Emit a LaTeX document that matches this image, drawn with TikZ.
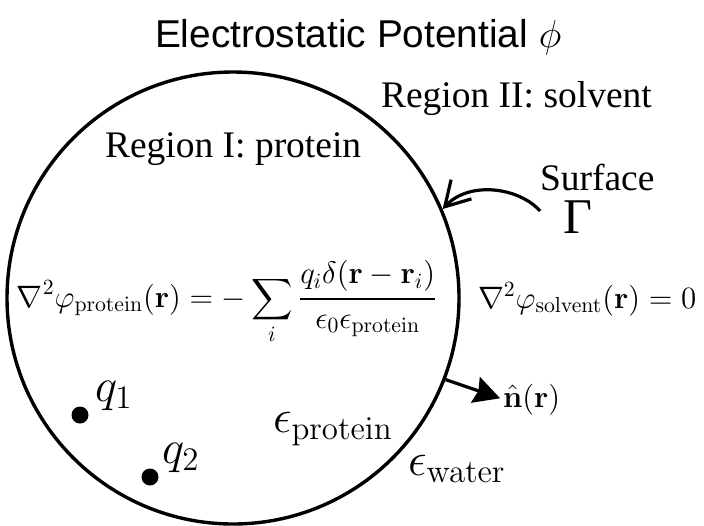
\RequirePackage{fix-cm}
\documentclass[tikz,border=0pt]{standalone}
\usepackage{exscale}
\usepackage[no-math]{fontspec}
\newfontfamily\sansf{Liberation Sans}
\newfontfamily\seriff{Liberation Serif}
\usetikzlibrary{arrows.meta}
\begin{document}
\begin{tikzpicture}[x=0.5pt,y=-0.5pt,
  lbl/.style={inner sep=0pt, outer sep=0pt},
  serif/.style={lbl, font=\seriff\fontsize{18.75}{22}\selectfont},
  eq/.style={lbl, font=\fontsize{15.5}{18}\selectfont},
  big/.style={lbl, font=\fontsize{23.5}{28}\selectfont},
  dot/.style={circle, fill, inner sep=0pt, minimum size=8.5pt},
  line/.style={line width=1.6pt}]
\useasboundingbox (0,0) rectangle (704,525);
\node[circle, draw, line width=1.7pt, minimum size=226pt, inner sep=0pt] (surf) at (233,298) {};
\node[lbl, anchor=base west, font=\sansf\fontsize{19.4}{23}\selectfont] (title) at (155,47) {Electrostatic Potential $\phi$};
\node[serif, anchor=base west] (r2) at (381,107) {Region II: solvent};
\node[serif, anchor=base west] (r1) at (105,157) {Region I: protein};
\node[serif, anchor=base west] (sfc) at (540,190) {Surface};
\node[lbl, anchor=base, font=\seriff\fontsize{25}{30}\selectfont] (gam) at (578,233) {Γ};
\node[eq, anchor=base west] (eqp) at (17,307) {$\displaystyle \nabla^2\varphi_{\mathrm{protein}}(\mathbf{r}) = -\sum_i {q_i\delta(\mathbf{r}-\mathbf{r}_i) \above 1.1pt \epsilon_0\epsilon_{\mathrm{protein}}}$};
\node[eq, anchor=base west] (eqs) at (478,308) {$\nabla^2\varphi_{\mathrm{solvent}}(\mathbf{r}) = 0$};
\node[eq, anchor=base west] (nr) at (503,407) {$\hat{\mathbf{n}}(\mathbf{r})$};
\node[dot] (d1) at (80,415) {};
\node[dot] (d2) at (150,477) {};
\node[big, anchor=base west] (q1) at (95,401) {$q_1$};
\node[big, anchor=base west] (q2) at (162,463) {$q_2$};
\node[big, anchor=base west] (ep) at (273,432) {$\epsilon_{\mathrm{protein}}$};
\node[big, anchor=base west] (ew) at (408,475) {$\epsilon_{\mathrm{water}}$};
\coordinate (gs) at (540,211);
\draw[line, -{Straight Barb[length=12pt,width=14pt]}] (gs) .. controls (520,188) and (470,180) .. (surf.23);
\draw[line, shorten >=1.5pt, -{Stealth[length=13pt,width=13.5pt,inset=1.5pt]}] (surf.-21) -- (nr.west);
\end{tikzpicture}
\end{document}
